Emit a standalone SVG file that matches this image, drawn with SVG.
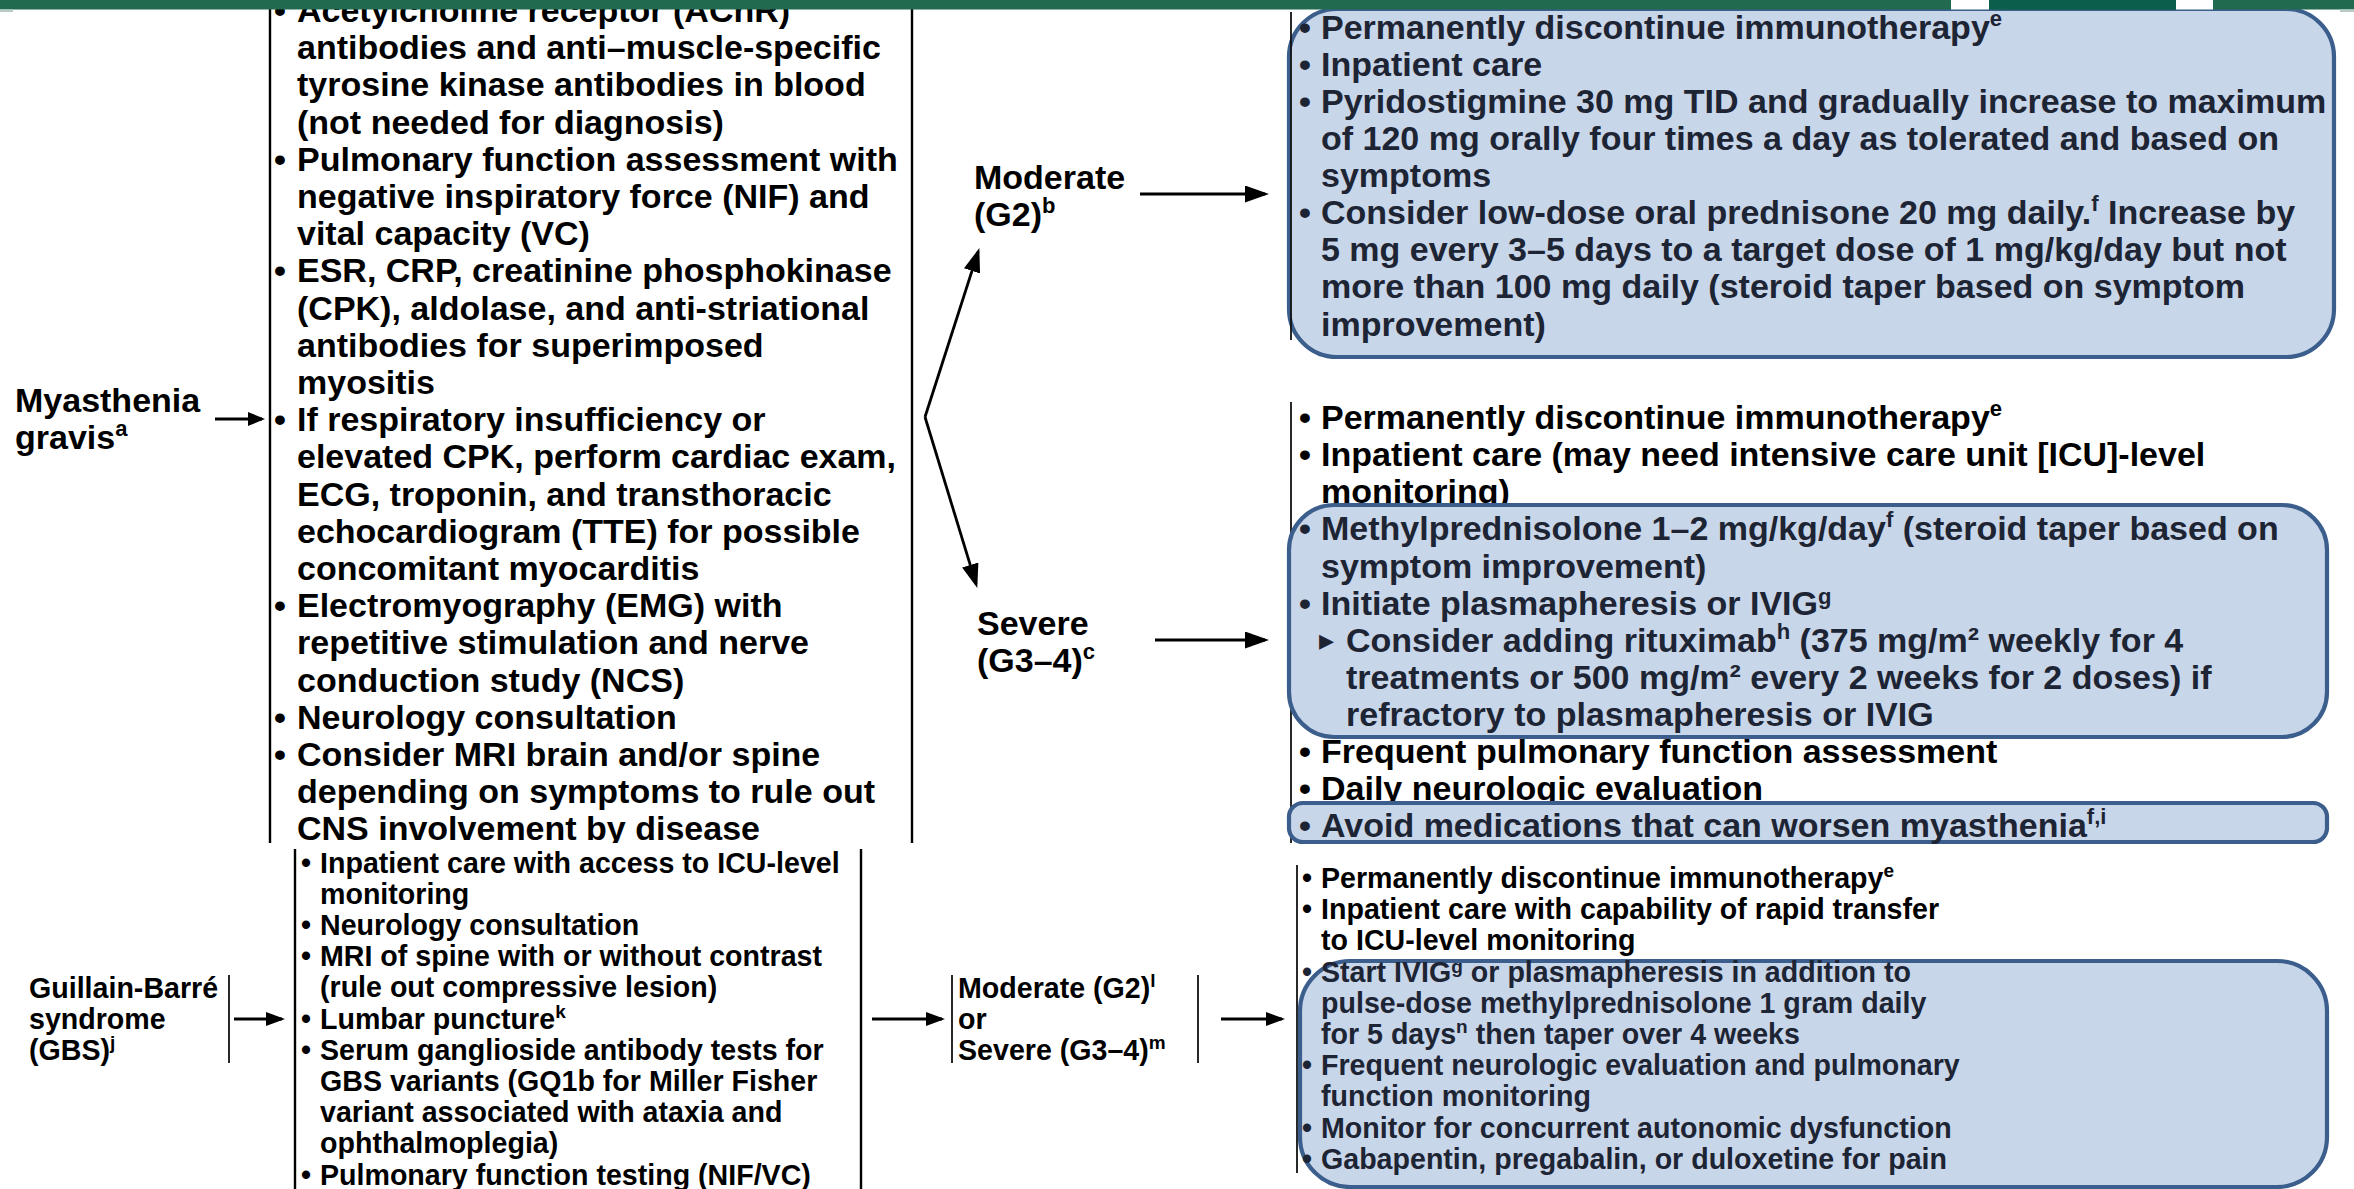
<svg xmlns="http://www.w3.org/2000/svg" width="2354" height="1189" viewBox="0 0 2354 1189">
<defs>
<style>
text{font-family:"Liberation Sans",Arial,"DejaVu Sans",sans-serif;font-weight:bold;fill:#000}
.l{font-size:34px}
.s{font-size:28.6px}
.in{fill:#1d2434}
.sl{font-size:22px}
.ss{font-size:19px}
.vl{stroke:#000;stroke-width:2.4;fill:none}
.vt{stroke:#111;stroke-width:1.8;fill:none}
.box{fill:#c8d6e9;stroke:#3b5e8c;stroke-width:4.2}
.ar{stroke:#000;stroke-width:2.8;fill:none}
.tri{font-family:"DejaVu Sans",sans-serif;font-size:30px}
</style>
<marker id="hb" markerUnits="userSpaceOnUse" markerWidth="24" markerHeight="17" refX="20" refY="8.5" orient="auto"><path d="M0,0L24,8.5L0,17z"/></marker>
<marker id="hm" markerUnits="userSpaceOnUse" markerWidth="19" markerHeight="14" refX="16" refY="7" orient="auto"><path d="M0,0L19,7L0,14z"/></marker>
<marker id="hs" markerUnits="userSpaceOnUse" markerWidth="17" markerHeight="14" refX="14" refY="7" orient="auto"><path d="M0,0L17,7L0,14z"/></marker>
<clipPath id="upper"><rect x="0" y="0" width="2354" height="843"/></clipPath>
</defs>

<rect width="2354" height="1189" fill="#fff"/>

<!-- Myasthenia gravis: entry label -->
<g id="myasthenia">
<text class="l" x="15" y="412">Myasthenia</text>
<text class="l" x="15" y="449">gravis<tspan class="sl" dy="-13">a</tspan></text>
</g>

<!-- Myasthenia gravis: workup list -->
<g id="mg-workup" clip-path="url(#upper)">
<path class="vl" d="M270,9V843M912,9V843"/>
<text class="l" x="274" y="22">•</text><text class="l" x="297" y="22">Acetylcholine receptor (AChR)</text>
<text class="l" x="297" y="59.2">antibodies and anti–muscle-specific</text>
<text class="l" x="297" y="96.4">tyrosine kinase antibodies in blood</text>
<text class="l" x="297" y="133.6">(not needed for diagnosis)</text>
<text class="l" x="274" y="170.8">•</text><text class="l" x="297" y="170.8">Pulmonary function assessment with</text>
<text class="l" x="297" y="208">negative inspiratory force (NIF) and</text>
<text class="l" x="297" y="245.2">vital capacity (VC)</text>
<text class="l" x="274" y="282.4">•</text><text class="l" x="297" y="282.4">ESR, CRP, creatinine phosphokinase</text>
<text class="l" x="297" y="319.6">(CPK), aldolase, and anti-striational</text>
<text class="l" x="297" y="356.8">antibodies for superimposed</text>
<text class="l" x="297" y="394">myositis</text>
<text class="l" x="274" y="431.2">•</text><text class="l" x="297" y="431.2">If respiratory insufficiency or</text>
<text class="l" x="297" y="468.4">elevated CPK, perform cardiac exam,</text>
<text class="l" x="297" y="505.6">ECG, troponin, and transthoracic</text>
<text class="l" x="297" y="542.8">echocardiogram (TTE) for possible</text>
<text class="l" x="297" y="580">concomitant myocarditis</text>
<text class="l" x="274" y="617.2">•</text><text class="l" x="297" y="617.2">Electromyography (EMG) with</text>
<text class="l" x="297" y="654.4">repetitive stimulation and nerve</text>
<text class="l" x="297" y="691.6">conduction study (NCS)</text>
<text class="l" x="274" y="728.8">•</text><text class="l" x="297" y="728.8">Neurology consultation</text>
<text class="l" x="274" y="766">•</text><text class="l" x="297" y="766">Consider MRI brain and/or spine</text>
<text class="l" x="297" y="803.2">depending on symptoms to rule out</text>
<text class="l" x="297" y="840.4">CNS involvement by disease</text>
</g>

<!-- Grade labels -->
<g id="mg-moderate">
<text class="l" x="974" y="189">Moderate</text>
<text class="l" x="974" y="226">(G2)<tspan class="sl" dy="-13">b</tspan></text>
</g>
<g id="mg-severe">
<text class="l" x="977" y="634.5">Severe</text>
<text class="l" x="977" y="671.5">(G3–4)<tspan class="sl" dy="-13">c</tspan></text>
</g>

<!-- Moderate management -->
<g id="mg-moderate-tx">
<rect class="box" x="1289" y="9" width="1045" height="348" rx="48"/>
<path class="vt" d="M1291,12V340"/>
<text class="l in" x="1299" y="38.5">•</text><text class="l in" x="1321" y="38.5">Permanently discontinue immunotherapy<tspan class="sl" dy="-13">e</tspan></text>
<text class="l in" x="1299" y="75.6">•</text><text class="l in" x="1321" y="75.6">Inpatient care</text>
<text class="l in" x="1299" y="112.7">•</text><text class="l in" x="1321" y="112.7">Pyridostigmine 30 mg TID and gradually increase to maximum</text>
<text class="l in" x="1321" y="149.9">of 120 mg orally four times a day as tolerated and based on</text>
<text class="l in" x="1321" y="187">symptoms</text>
<text class="l in" x="1299" y="224.1">•</text><text class="l in" x="1321" y="224.1">Consider low-dose oral prednisone 20 mg daily.<tspan class="sl" dy="-13">f</tspan><tspan dy="13"> Increase by</tspan></text>
<text class="l in" x="1321" y="261.2">5 mg every 3–5 days to a target dose of 1 mg/kg/day but not</text>
<text class="l in" x="1321" y="298.3">more than 100 mg daily (steroid taper based on symptom</text>
<text class="l in" x="1321" y="335.5">improvement)</text>
</g>

<!-- Severe management -->
<g id="mg-severe-tx">
<path class="vt" d="M1291,402V843"/>
<text class="l" x="1299" y="429">•</text><text class="l" x="1321" y="429">Permanently discontinue immunotherapy<tspan class="sl" dy="-13">e</tspan></text>
<text class="l" x="1299" y="466.1">•</text><text class="l" x="1321" y="466.1">Inpatient care (may need intensive care unit [ICU]-level</text>
<text class="l" x="1321" y="503.2">monitoring)</text>
<rect class="box" x="1289" y="505" width="1038" height="232" rx="45"/>
<text class="l in" x="1299" y="540.4">•</text><text class="l in" x="1321" y="540.4">Methylprednisolone 1–2 mg/kg/day<tspan class="sl" dy="-13">f</tspan><tspan dy="13"> (steroid taper based on</tspan></text>
<text class="l in" x="1321" y="577.5">symptom improvement)</text>
<text class="l in" x="1299" y="614.6">•</text><text class="l in" x="1321" y="614.6">Initiate plasmapheresis or IVIG<tspan class="sl" dy="-11">g</tspan></text>
<text class="tri in" x="1319" y="650">▸</text><text class="l in" x="1346" y="651.7">Consider adding rituximab<tspan class="sl" dy="-13">h</tspan><tspan dy="13"> (375 mg/m² weekly for 4</tspan></text>
<text class="l in" x="1346" y="688.8">treatments or 500 mg/m² every 2 weeks for 2 doses) if</text>
<text class="l in" x="1346" y="726">refractory to plasmapheresis or IVIG</text>
<text class="l" x="1299" y="763.1">•</text><text class="l" x="1321" y="763.1">Frequent pulmonary function assessment</text>
<text class="l" x="1299" y="800.2">•</text><text class="l" x="1321" y="800.2">Daily neurologic evaluation</text>
<rect class="box" x="1289" y="803" width="1038" height="39" rx="14"/>
<text class="l in" x="1299" y="837">•</text><text class="l in" x="1321" y="837">Avoid medications that can worsen myasthenia<tspan class="sl" dy="-13">f,i</tspan></text>
</g>

<!-- Guillain-Barré syndrome: entry label -->
<g id="gbs">
<text class="s" x="29" y="997.5">Guillain-Barré</text>
<text class="s" x="29" y="1028.5">syndrome</text>
<text class="s" x="29" y="1059.5">(GBS)<tspan class="ss" dy="-11">j</tspan></text>
<path class="vt" d="M229,975V1063"/>
</g>

<!-- Guillain-Barré syndrome: workup list -->
<g id="gbs-workup">
<path class="vl" d="M295,849V1189M861,849V1189"/>
<text class="s" x="301" y="872.5">•</text><text class="s" x="320" y="872.5">Inpatient care with access to ICU-level</text>
<text class="s" x="320" y="903.7">monitoring</text>
<text class="s" x="301" y="934.9">•</text><text class="s" x="320" y="934.9">Neurology consultation</text>
<text class="s" x="301" y="966.1">•</text><text class="s" x="320" y="966.1">MRI of spine with or without contrast</text>
<text class="s" x="320" y="997.3">(rule out compressive lesion)</text>
<text class="s" x="301" y="1028.5">•</text><text class="s" x="320" y="1028.5">Lumbar puncture<tspan class="ss" dy="-11">k</tspan></text>
<text class="s" x="301" y="1059.7">•</text><text class="s" x="320" y="1059.7">Serum ganglioside antibody tests for</text>
<text class="s" x="320" y="1090.9">GBS variants (GQ1b for Miller Fisher</text>
<text class="s" x="320" y="1122.1">variant associated with ataxia and</text>
<text class="s" x="320" y="1153.3">ophthalmoplegia)</text>
<text class="s" x="301" y="1184.5">•</text><text class="s" x="320" y="1184.5">Pulmonary function testing (NIF/VC)</text>
</g>

<!-- Guillain-Barré syndrome: grade -->
<g id="gbs-grade">
<path class="vt" d="M952,975V1063M1198,975V1063"/>
<text class="s" x="958" y="997.5">Moderate (G2)<tspan class="ss" dy="-11">l</tspan></text>
<text class="s" x="958" y="1028.5">or</text>
<text class="s" x="958" y="1059.5">Severe (G3–4)<tspan class="ss" dy="-11">m</tspan></text>
</g>

<!-- Guillain-Barré syndrome: management -->
<g id="gbs-tx">
<path class="vt" d="M1297,865V1173"/>
<text class="s" x="1302" y="888">•</text><text class="s" x="1321" y="888">Permanently discontinue immunotherapy<tspan class="ss" dy="-11">e</tspan></text>
<text class="s" x="1302" y="919.2">•</text><text class="s" x="1321" y="919.2">Inpatient care with capability of rapid transfer</text>
<text class="s" x="1321" y="950.4">to ICU-level monitoring</text>
<rect class="box" x="1300" y="961" width="1027" height="226" rx="50"/>
<text class="s in" x="1302" y="981.6">•</text><text class="s in" x="1321" y="981.6">Start IVIG<tspan class="ss" dy="-9">g</tspan><tspan dy="9"> or plasmapheresis in addition to</tspan></text>
<text class="s in" x="1321" y="1012.8">pulse-dose methylprednisolone 1 gram daily</text>
<text class="s in" x="1321" y="1044">for 5 days<tspan class="ss" dy="-11">n</tspan><tspan dy="11"> then taper over 4 weeks</tspan></text>
<text class="s in" x="1302" y="1075.2">•</text><text class="s in" x="1321" y="1075.2">Frequent neurologic evaluation and pulmonary</text>
<text class="s in" x="1321" y="1106.4">function monitoring</text>
<text class="s in" x="1302" y="1137.6">•</text><text class="s in" x="1321" y="1137.6">Monitor for concurrent autonomic dysfunction</text>
<text class="s in" x="1302" y="1168.8">•</text><text class="s in" x="1321" y="1168.8">Gabapentin, pregabalin, or duloxetine for pain</text>
</g>

<!-- Connectors -->
<g id="connectors">
<path class="ar" d="M215,419H262" marker-end="url(#hs)"/>
<path class="ar" d="M925,417L978.1,251.9" marker-end="url(#hb)"/>
<path class="ar" d="M925,417L976.1,584.1" marker-end="url(#hb)"/>
<path class="ar" d="M1140,194H1265" marker-end="url(#hb)"/>
<path class="ar" d="M1155,640H1265" marker-end="url(#hb)"/>
<path class="ar" d="M234,1019H282" marker-end="url(#hm)"/>
<path class="ar" d="M872,1019H942" marker-end="url(#hm)"/>
<path class="ar" d="M1221,1019H1282" marker-end="url(#hm)"/>
</g>

<!-- Header strip -->
<g id="header">
<rect x="0" y="0" width="2354" height="9.5" fill="#216a4f"/>
<rect x="1951" y="0" width="38" height="9.5" fill="#fff"/>
<rect x="1989" y="0" width="187" height="9.5" fill="#0b5f4a"/>
<rect x="2176" y="0" width="37" height="9.5" fill="#fff"/>
<rect x="0" y="9.5" width="13" height="2.5" fill="#b7cdc3"/>
<rect x="2340" y="9.5" width="14" height="2.5" fill="#b7cdc3"/>
</g>
</svg>
